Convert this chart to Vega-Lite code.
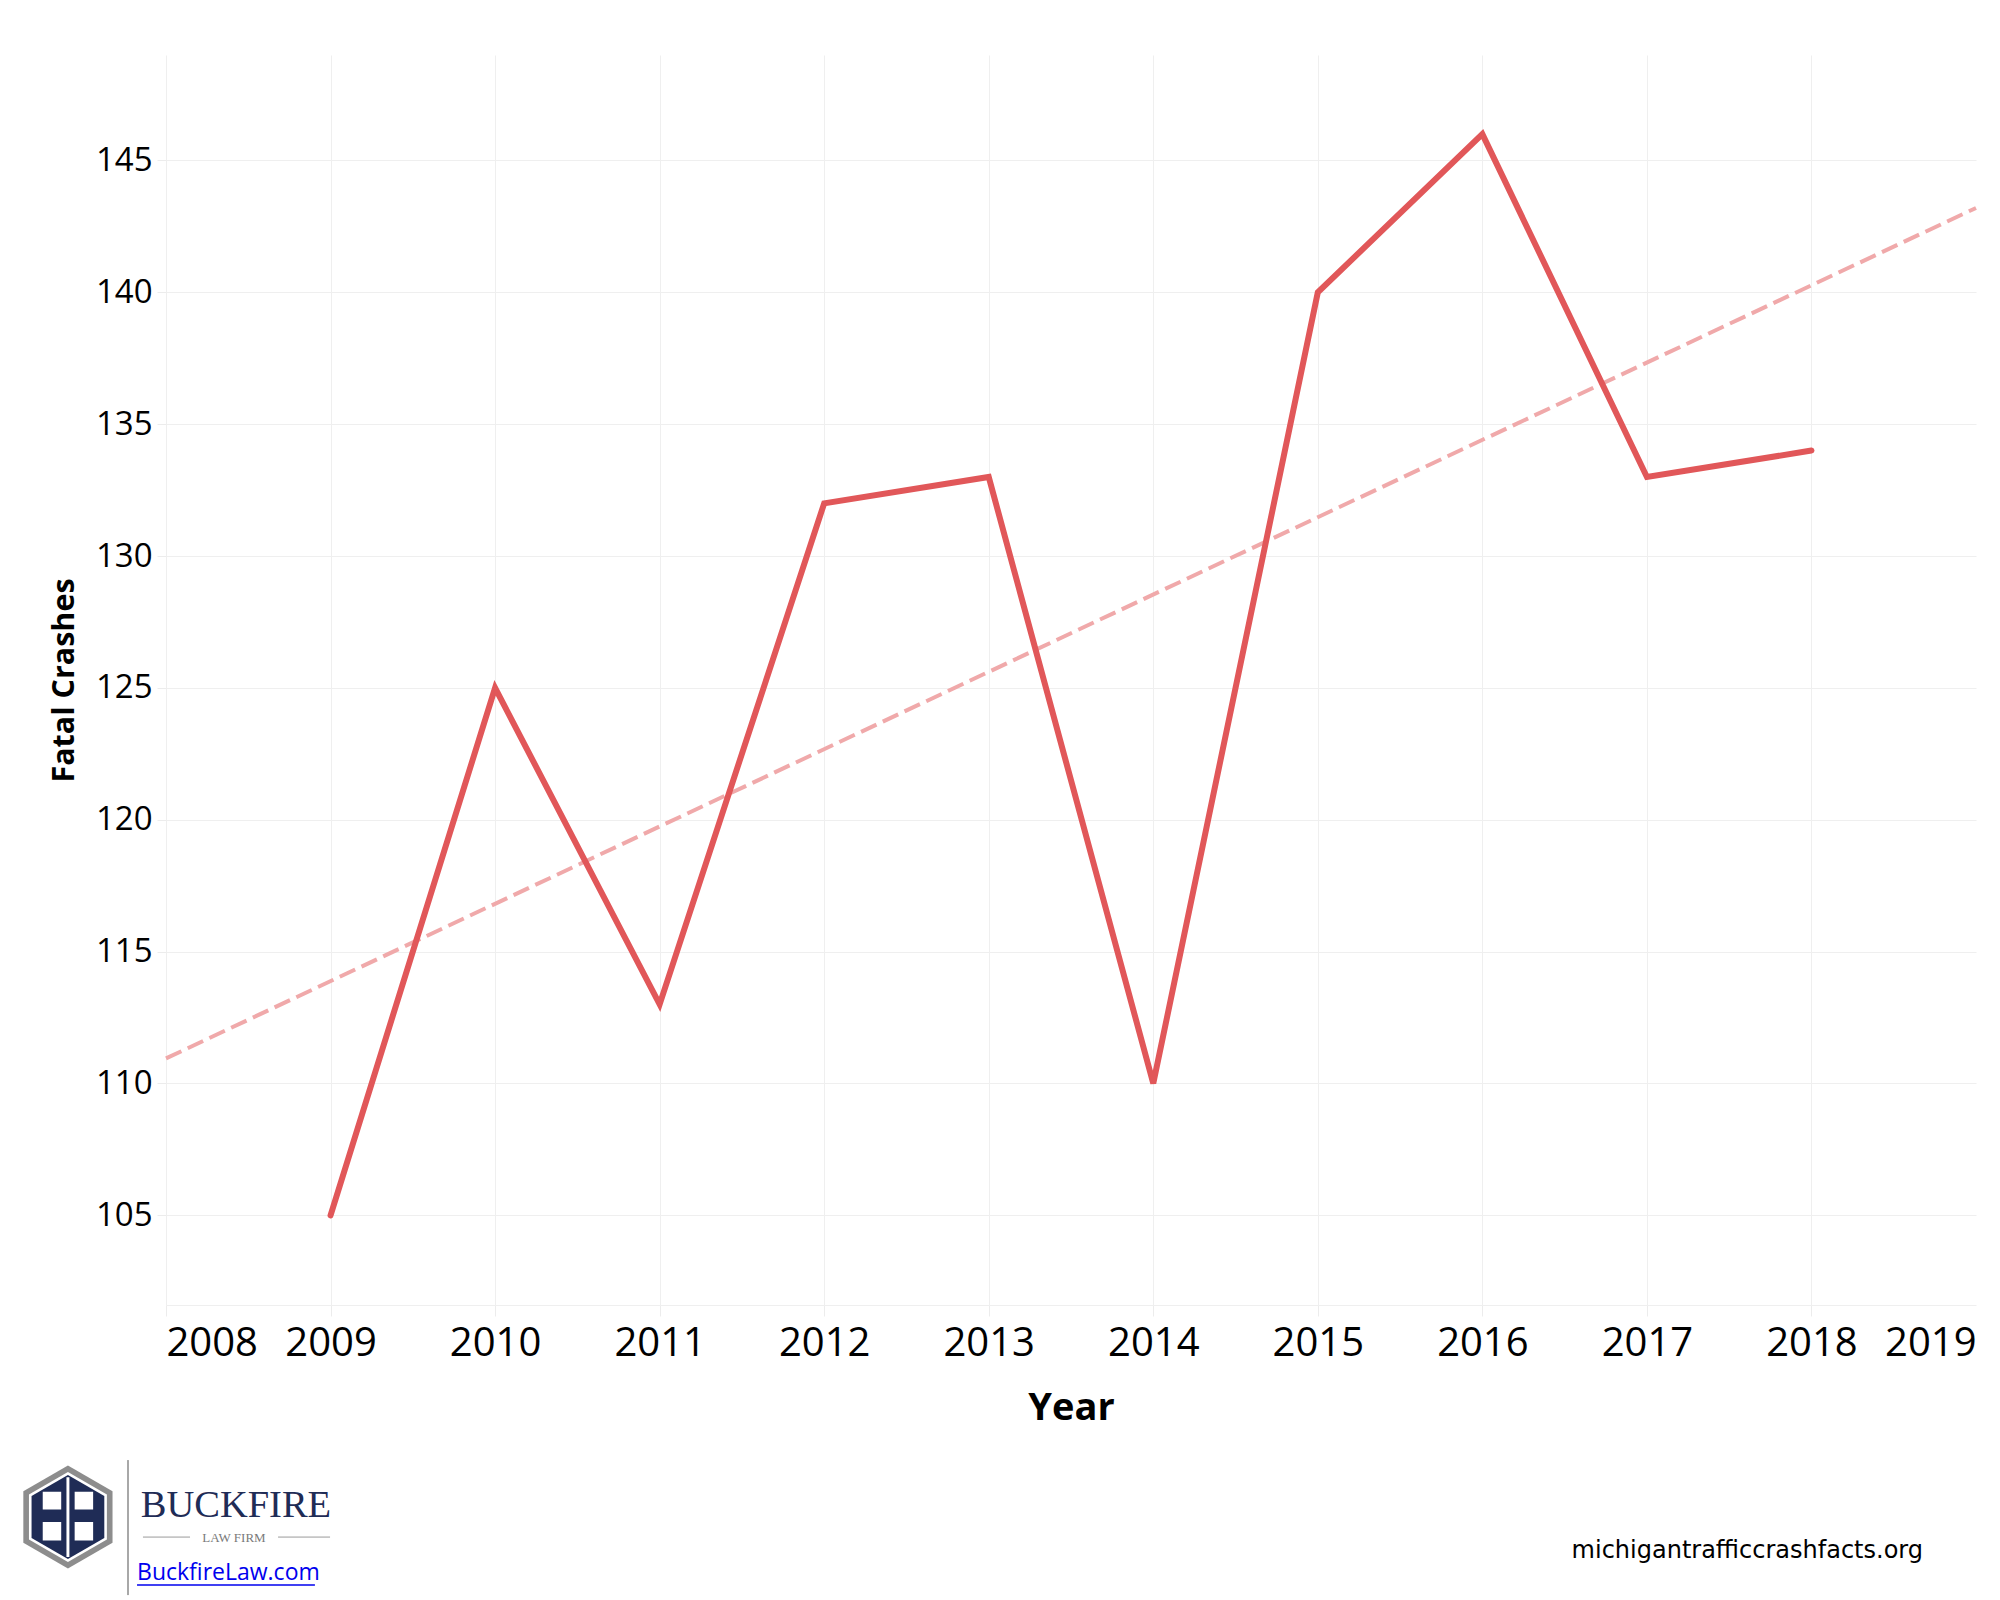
{
  "$schema": "https://vega.github.io/schema/vega-lite/v6.json",
  "width": 1810,
  "height": 1250,
  "autosize": {"type": "none"},
  "padding": {"left": 166, "top": 55, "right": 24, "bottom": 295},
  "background": "white",
  "config": {"view": {"stroke": null}, "font": "Open Sans"},
  "datasets": {
    "crashes": [
      {"year": 2009, "value": 105},
      {"year": 2010, "value": 125},
      {"year": 2011, "value": 113},
      {"year": 2012, "value": 132},
      {"year": 2013, "value": 133},
      {"year": 2014, "value": 110},
      {"year": 2015, "value": 140},
      {"year": 2016, "value": 146},
      {"year": 2017, "value": 133},
      {"year": 2018, "value": 134}
    ],
    "trend": [
      {"year": 2008, "value": 110.95},
      {"year": 2019, "value": 143.2}
    ]
  },
  "layer": [
    {
      "data": {"name": "trend"},
      "mark": {"type": "line", "color": "#F0A9AA", "strokeWidth": 4, "strokeDash": [17, 7]},
      "encoding": {
        "x": {
          "field": "year",
          "type": "quantitative",
          "scale": {"domain": [2008, 2019], "nice": false, "zero": false},
          "axis": {
            "values": [2008, 2009, 2010, 2011, 2012, 2013, 2014, 2015, 2016, 2017, 2018, 2019],
            "format": "d",
            "labelFont": "Open Sans",
            "labelFontSize": 40,
            "labelColor": "#000000",
            "labelFlush": true,
            "labelPadding": 7,
            "labelOverlap": false,
            "tickSize": 11,
            "tickColor": {"condition": {"test": "datum.value === 2019", "value": "transparent"}, "value": "#ececec"},
            "gridColor": {"condition": {"test": "datum.value === 2019", "value": "transparent"}, "value": "#efefef"},
            "domainColor": "#efefef",
            "title": "Year",
            "titleFont": "Open Sans",
            "titleFontSize": 38,
            "titleFontWeight": "bold",
            "titleColor": "#000000",
            "titlePadding": 26
          }
        },
        "y": {
          "field": "value",
          "type": "quantitative",
          "scale": {"domain": [101.6, 149], "nice": false, "zero": false},
          "axis": {
            "values": [105, 110, 115, 120, 125, 130, 135, 140, 145],
            "labelFont": "Open Sans",
            "labelFontSize": 33,
            "labelColor": "#000000",
            "labelPadding": 5,
            "tickSize": 9,
            "tickColor": "#ececec",
            "gridColor": "#efefef",
            "domain": false,
            "title": "Fatal Crashes",
            "titleFont": "Open Sans",
            "titleFontSize": 30.5,
            "titleFontWeight": "bold",
            "titleColor": "#000000",
            "titlePadding": 16
          }
        }
      }
    },
    {
      "data": {"name": "crashes"},
      "mark": {"type": "line", "color": "#E15759", "strokeWidth": 6, "strokeCap": "round", "strokeJoin": "miter"},
      "encoding": {
        "x": {"field": "year", "type": "quantitative"},
        "y": {"field": "value", "type": "quantitative"}
      }
    },
    {
      "data": {"values": [{"part": "logo"}]},
      "mark": {"type": "point", "shape": "M0,-1L0.866,-0.5L0.866,0.5L0,1L-0.866,0.5L-0.866,-0.5Z", "filled": true, "color": "#8d8d8d", "opacity": 1, "size": 10609, "strokeWidth": 0},
      "encoding": {"x": {"datum": 2007.404, "type": "quantitative"}, "y": {"datum": 93.56, "type": "quantitative"}}
    },
    {
      "data": {"values": [{"part": "logo"}]},
      "mark": {"type": "point", "shape": "M0,-1L0.866,-0.5L0.866,0.5L0,1L-0.866,0.5L-0.866,-0.5Z", "filled": true, "color": "#ffffff", "opacity": 1, "size": 8100, "strokeWidth": 0},
      "encoding": {"x": {"datum": 2007.404, "type": "quantitative"}, "y": {"datum": 93.56, "type": "quantitative"}}
    },
    {
      "data": {"values": [{"part": "logo"}]},
      "mark": {"type": "point", "shape": "M0,-1L0.866,-0.5L0.866,0.5L0,1L-0.866,0.5L-0.866,-0.5Z", "filled": true, "color": "#1f2c56", "opacity": 1, "size": 7056, "strokeWidth": 0},
      "encoding": {"x": {"datum": 2007.404, "type": "quantitative"}, "y": {"datum": 93.56, "type": "quantitative"}}
    },
    {
      "data": {"values": [{"part": "logo"}]},
      "mark": {"type": "point", "shape": "M-0.6,-0.6H-0.16V-0.18H-0.6Z M0.16,-0.6H0.6V-0.18H0.16Z M-0.6,0.12H-0.16V0.56H-0.6Z M0.16,0.12H0.6V0.56H0.16Z M-0.035,-0.95H0.035V0.95H-0.035Z", "filled": true, "color": "#ffffff", "opacity": 1, "size": 7056, "strokeWidth": 0},
      "encoding": {"x": {"datum": 2007.404, "type": "quantitative"}, "y": {"datum": 93.56, "type": "quantitative"}}
    },
    {
      "data": {"values": [{"part": "divider"}]},
      "mark": {"type": "rule", "color": "#a8a8a8", "strokeWidth": 2},
      "encoding": {"x": {"datum": 2007.769, "type": "quantitative"}, "y": {"datum": 95.72, "type": "quantitative"}, "y2": {"datum": 90.6}}
    },
    {
      "data": {"values": [{"label": "BUCKFIRE"}]},
      "mark": {"type": "text", "font": "Liberation Serif", "fontSize": 38.5, "color": "#1f2c56", "align": "center", "baseline": "alphabetic"},
      "encoding": {"text": {"field": "label"}, "x": {"datum": 2008.425, "type": "quantitative"}, "y": {"datum": 93.56, "type": "quantitative"}}
    },
    {
      "data": {"values": [{"label": "LAW FIRM"}]},
      "mark": {"type": "text", "font": "Liberation Serif", "fontSize": 13, "color": "#7a7a7a", "align": "center", "baseline": "alphabetic"},
      "encoding": {"text": {"field": "label"}, "x": {"datum": 2008.413, "type": "quantitative"}, "y": {"datum": 92.61, "type": "quantitative"}}
    },
    {
      "data": {"values": [{"part": "line"}]},
      "mark": {"type": "rule", "color": "#9a9a9a", "strokeWidth": 1},
      "encoding": {"x": {"datum": 2007.86, "type": "quantitative"}, "x2": {"datum": 2008.146}, "y": {"datum": 92.8, "type": "quantitative"}}
    },
    {
      "data": {"values": [{"part": "line"}]},
      "mark": {"type": "rule", "color": "#9a9a9a", "strokeWidth": 1},
      "encoding": {"x": {"datum": 2008.681, "type": "quantitative"}, "x2": {"datum": 2008.997}, "y": {"datum": 92.8, "type": "quantitative"}}
    },
    {
      "data": {"values": [{"label": "BuckfireLaw.com"}]},
      "mark": {"type": "text", "font": "Open Sans", "fontSize": 23, "color": "#0000EE", "align": "left", "baseline": "alphabetic"},
      "encoding": {"text": {"field": "label"}, "x": {"datum": 2007.824, "type": "quantitative"}, "y": {"datum": 91.17, "type": "quantitative"}}
    },
    {
      "data": {"values": [{"part": "underline"}]},
      "mark": {"type": "rule", "color": "#0000EE", "strokeWidth": 1.5},
      "encoding": {"x": {"datum": 2007.824, "type": "quantitative"}, "x2": {"datum": 2008.905}, "y": {"datum": 90.98, "type": "quantitative"}}
    },
    {
      "data": {"values": [{"label": "michigantrafficcrashfacts.org"}]},
      "mark": {"type": "text", "font": "DejaVu Sans", "fontSize": 24, "color": "#000000", "align": "right", "baseline": "alphabetic"},
      "encoding": {"text": {"field": "label"}, "x": {"datum": 2018.678, "type": "quantitative"}, "y": {"datum": 92.0, "type": "quantitative"}}
    }
  ]
}
